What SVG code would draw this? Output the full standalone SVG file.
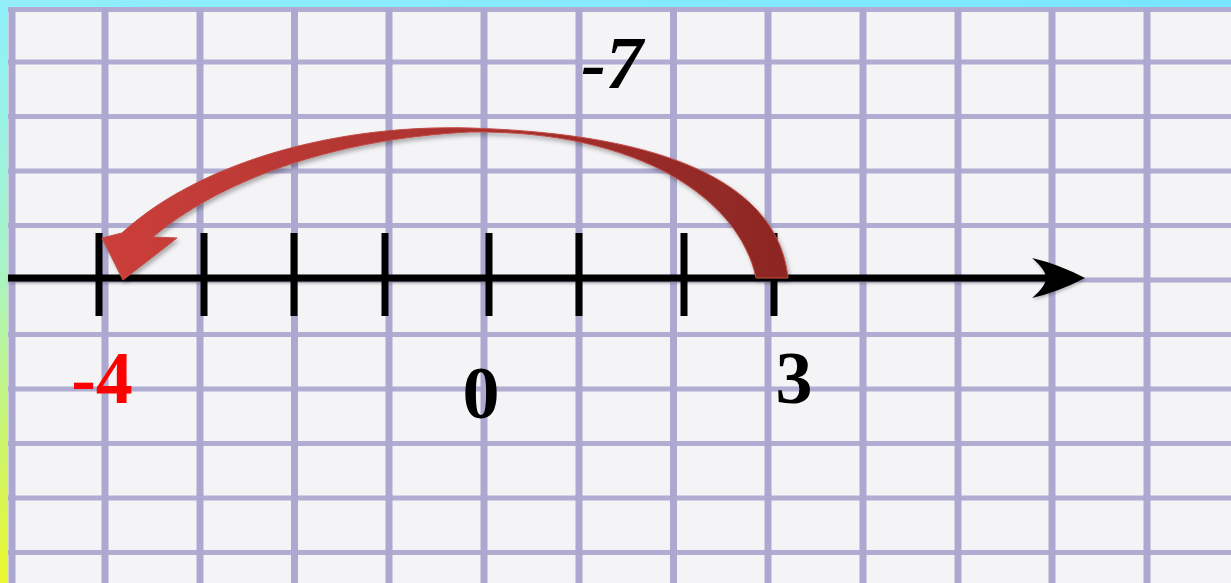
<svg xmlns="http://www.w3.org/2000/svg" width="1231" height="583" viewBox="0 0 1231 583">
  <defs>
    <linearGradient id="leftStrip" x1="0" y1="0" x2="0" y2="1">
      <stop offset="0" stop-color="#8ef0fc"/>
      <stop offset="0.45" stop-color="#a8f4c8"/>
      <stop offset="0.7" stop-color="#c4f47c"/>
      <stop offset="1" stop-color="#eaf82e"/>
    </linearGradient>
    <linearGradient id="topStrip" x1="0" y1="0" x2="1" y2="0">
      <stop offset="0" stop-color="#92eefa"/>
      <stop offset="1" stop-color="#78e6ff"/>
    </linearGradient>
    <linearGradient id="arrowGrad" x1="100" y1="0" x2="790" y2="0" gradientUnits="userSpaceOnUse">
      <stop offset="0" stop-color="#cc3f3a"/>
      <stop offset="0.45" stop-color="#ad3430"/>
      <stop offset="1" stop-color="#8c2723"/>
    </linearGradient>
    <filter id="shadow" x="-10%" y="-10%" width="120%" height="130%">
      <feDropShadow dx="2" dy="3" stdDeviation="2" flood-color="#000" flood-opacity="0.3"/>
    </filter>
    <filter id="softShadow" x="-5%" y="-50%" width="110%" height="200%">
      <feDropShadow dx="1" dy="2" stdDeviation="1.5" flood-color="#000" flood-opacity="0.25"/>
    </filter>
    <filter id="soft" x="-1%" y="-1%" width="102%" height="102%">
      <feGaussianBlur stdDeviation="0.7"/>
    </filter>
    <style>
      .vgrid { stroke: #aca8cf; stroke-width: 7; }
      .hgrid { stroke: #b0acd2; stroke-width: 5; }
      .axis { stroke: #000; stroke-width: 7; }
      .tick { stroke: #000; stroke-width: 7; }
      .lbl { font-family: "Liberation Serif", "Times New Roman", serif; font-weight: bold; font-size: 74px; text-anchor: middle; }
    </style>
  </defs>

  <!-- background -->
  <rect x="0" y="0" width="1231" height="583" fill="url(#leftStrip)"/>
  <rect x="0" y="0" width="1231" height="8" fill="url(#topStrip)"/>
  <rect x="8" y="8" width="1223" height="575" fill="#f4f4f7"/>

  <!-- grid -->
  <g id="grid" filter="url(#soft)">
    <line class="hgrid" x1="8" y1="9.5" x2="1231" y2="9.5"/>
    <line class="hgrid" x1="8" y1="62" x2="1231" y2="62"/>
    <line class="hgrid" x1="8" y1="116.5" x2="1231" y2="116.5"/>
    <line class="hgrid" x1="8" y1="171" x2="1231" y2="171"/>
    <line class="hgrid" x1="8" y1="225.5" x2="1231" y2="225.5"/>
    <line class="hgrid" x1="8" y1="280" x2="1231" y2="280"/>
    <line class="hgrid" x1="8" y1="334.5" x2="1231" y2="334.5"/>
    <line class="hgrid" x1="8" y1="389" x2="1231" y2="389"/>
    <line class="hgrid" x1="8" y1="443.5" x2="1231" y2="443.5"/>
    <line class="hgrid" x1="8" y1="498" x2="1231" y2="498"/>
    <line class="hgrid" x1="8" y1="552.5" x2="1231" y2="552.5"/>
    <line class="vgrid" x1="12" y1="8" x2="12" y2="583"/>
    <line class="vgrid" x1="105" y1="8" x2="105" y2="583"/>
    <line class="vgrid" x1="200" y1="8" x2="200" y2="583"/>
    <line class="vgrid" x1="294.5" y1="8" x2="294.5" y2="583"/>
    <line class="vgrid" x1="389" y1="8" x2="389" y2="583"/>
    <line class="vgrid" x1="484" y1="8" x2="484" y2="583"/>
    <line class="vgrid" x1="579" y1="8" x2="579" y2="583"/>
    <line class="vgrid" x1="673.5" y1="8" x2="673.5" y2="583"/>
    <line class="vgrid" x1="768" y1="8" x2="768" y2="583"/>
    <line class="vgrid" x1="863" y1="8" x2="863" y2="583"/>
    <line class="vgrid" x1="958" y1="8" x2="958" y2="583"/>
    <line class="vgrid" x1="1052" y1="8" x2="1052" y2="583"/>
    <line class="vgrid" x1="1147" y1="8" x2="1147" y2="583"/>
  </g>

  <!-- number line -->
  <g id="number-line" filter="url(#softShadow)">
    <line class="axis" x1="8" y1="278" x2="1050" y2="278"/>
    <path d="M1085,278 Q1058,264 1032,258 Q1046,270 1046,278 Q1046,286 1032,298 Q1058,292 1085,278 Z" fill="#000"/>
  </g>

  <g id="ticks">
    <line class="tick" x1="99" y1="233" x2="99" y2="316"/>
    <line class="tick" x1="204" y1="233" x2="204" y2="316"/>
    <line class="tick" x1="294" y1="233" x2="294" y2="316"/>
    <line class="tick" x1="385" y1="233" x2="385" y2="316"/>
    <line class="tick" x1="489" y1="233" x2="489" y2="316"/>
    <line class="tick" x1="579" y1="233" x2="579" y2="316"/>
    <line class="tick" x1="684" y1="233" x2="684" y2="316"/>
    <line class="tick" x1="774" y1="233" x2="774" y2="316"/>
  </g>

  <!-- connectors -->
  <g id="connectors">
    <path id="jump-arrow" filter="url(#shadow)" fill="url(#arrowGrad)" stroke="#c14a45" stroke-width="1"
      d="M788,278 C780,200 700,135 470,128 C320,124 190,170 122,233 L102,238 L123,280 L177,238 L153,237 C218,182 330,139 470,132 C640,130 740,200 756,278 Z"/>
  </g>

  <!-- labels -->
  <g id="label-minus7"><text class="lbl" x="612" y="88" font-style="italic" fill="#000">-7</text></g>
  <g id="label-minus4"><text class="lbl" x="102" y="403" fill="#ff0000">-4</text></g>
  <g id="label-0"><text class="lbl" x="481" y="418" fill="#000">0</text></g>
  <g id="label-3"><text class="lbl" x="794" y="403" fill="#000">3</text></g>
</svg>
